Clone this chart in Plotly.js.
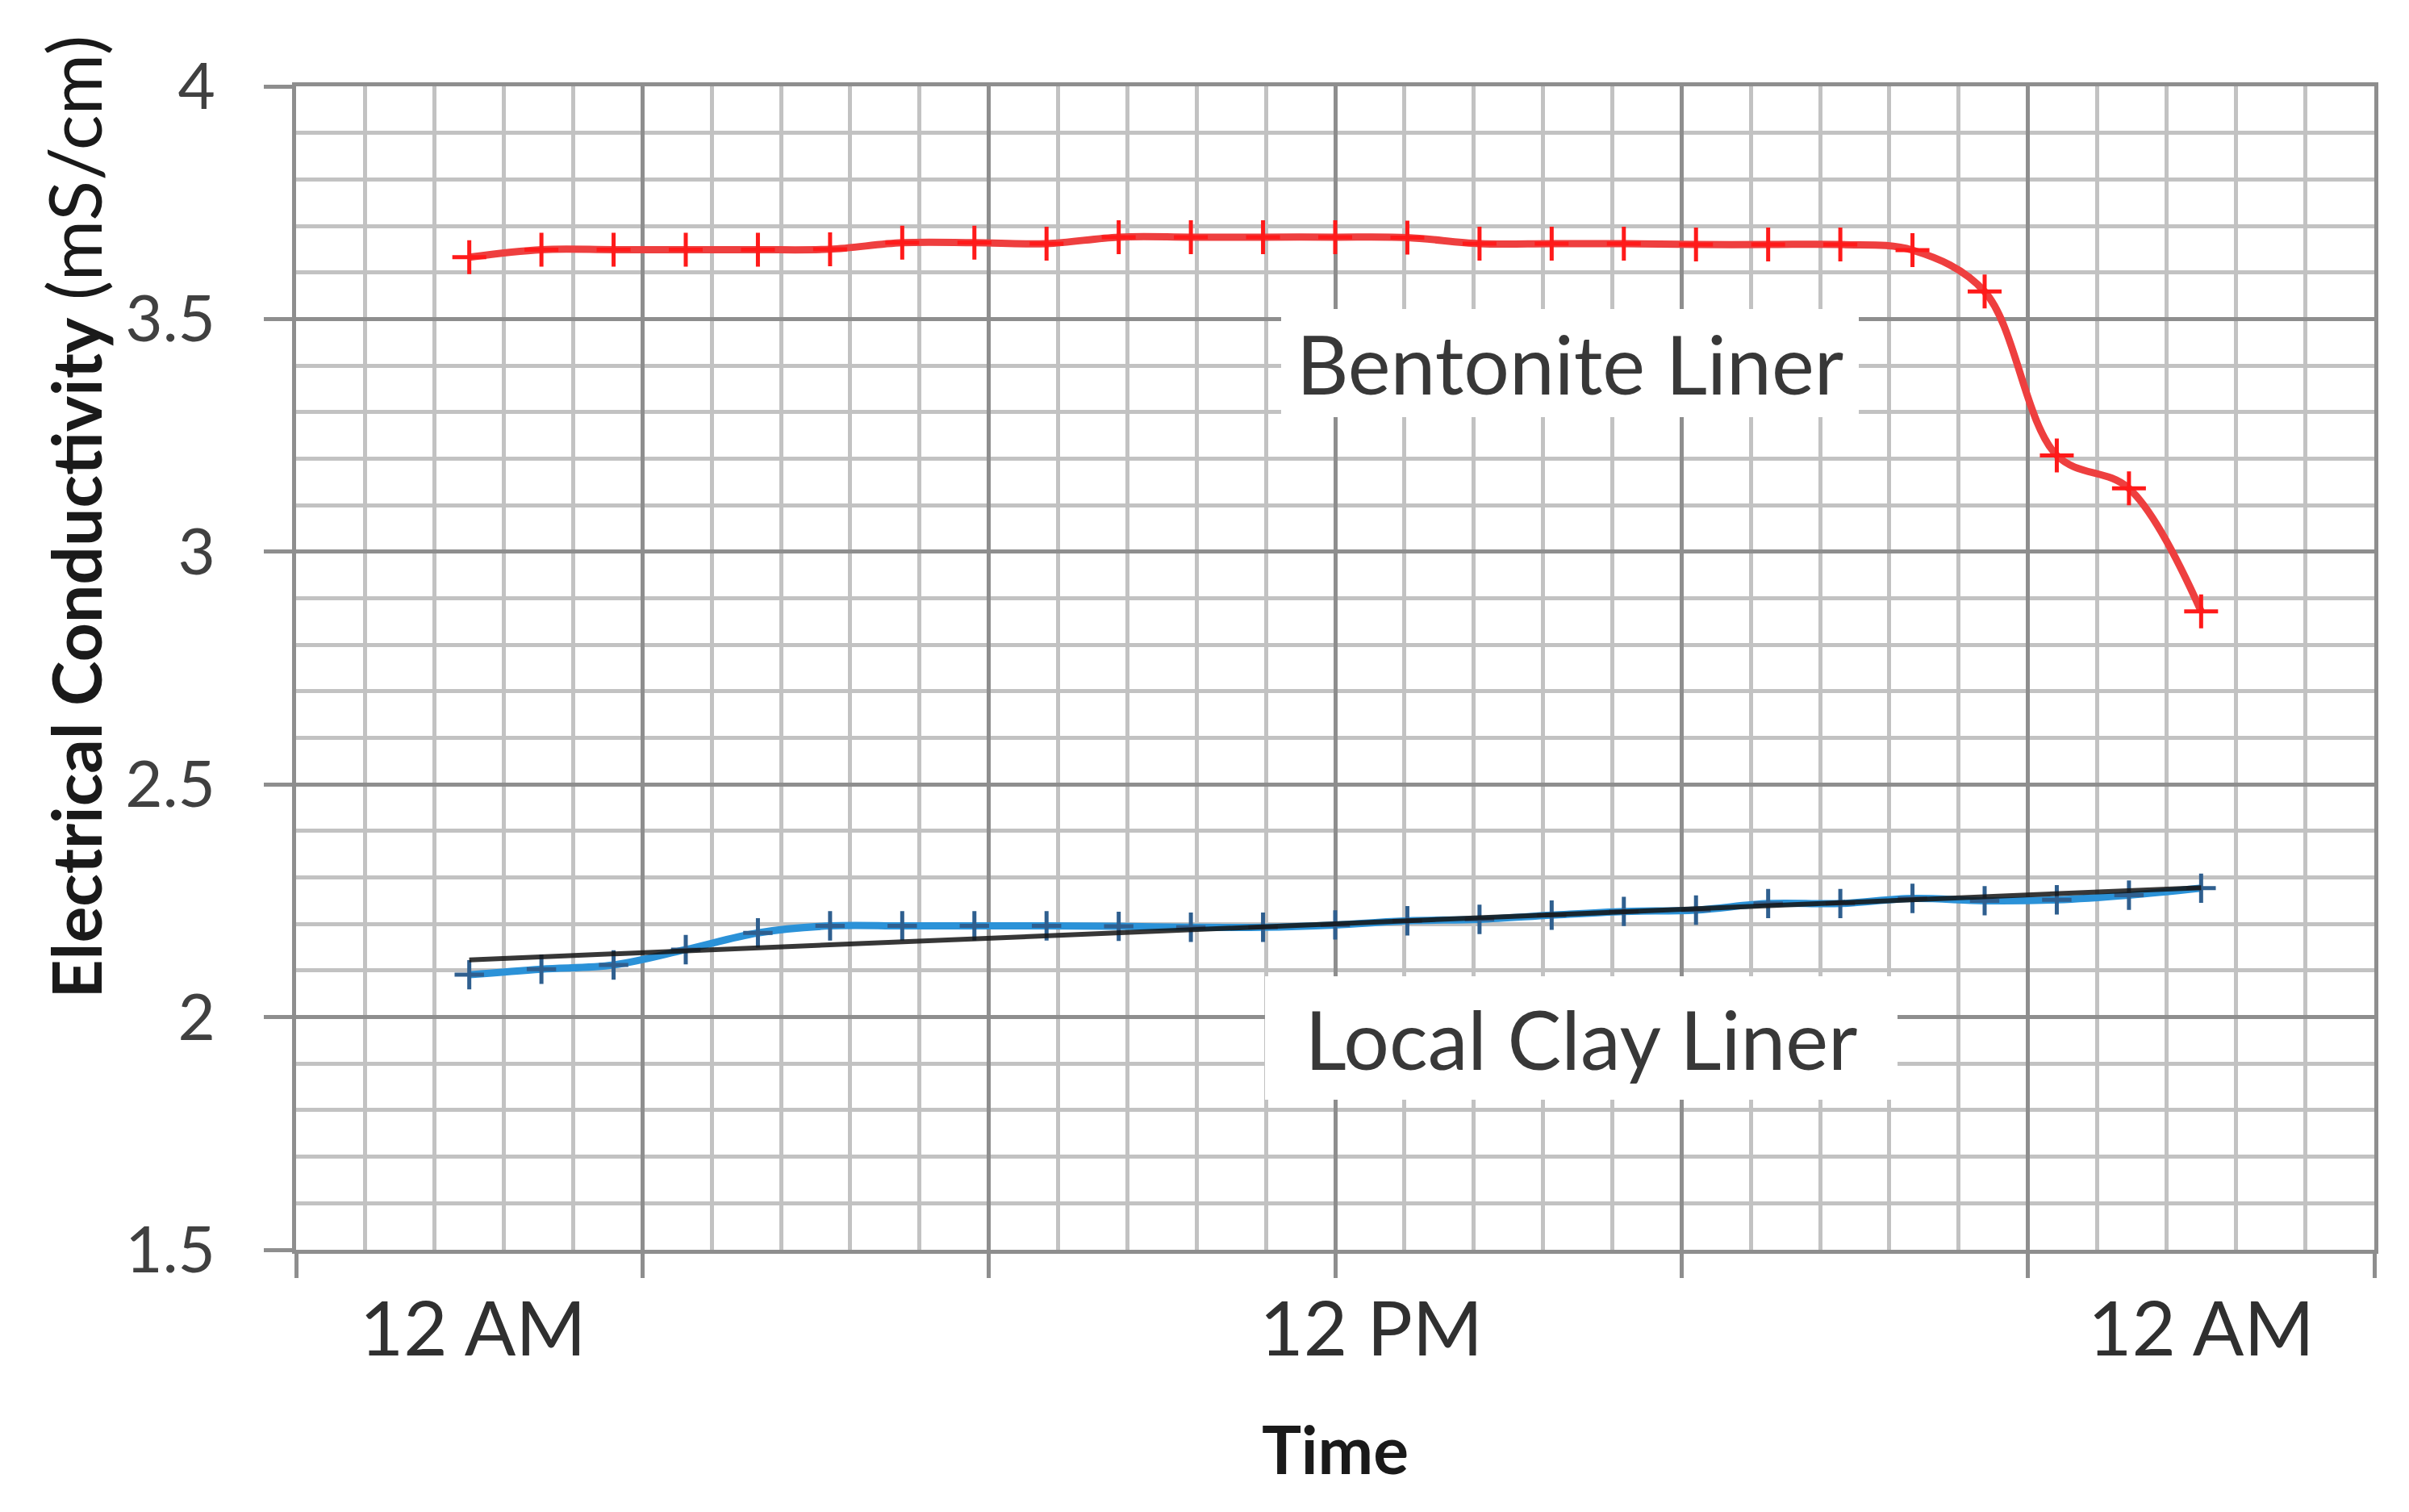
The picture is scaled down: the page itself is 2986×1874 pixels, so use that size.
<!DOCTYPE html>
<html>
<head>
<meta charset="utf-8">
<script src="https://cdn.plot.ly/plotly-3.0.1.min.js"></script>
<style>
  html, body { margin: 0; padding: 0; background: #ffffff; }
  #chart { width: 2986px; height: 1874px; }
</style>
</head>
<body>
<div id="chart"></div>
<script>
// ---- data ----
const hours = [0, 1, 2, 3, 4, 5, 6, 7, 8, 9, 10, 11, 12, 13, 14, 15, 16, 17, 18, 19, 20, 21, 22, 23, 24];
const bentonite = [3.633, 3.649, 3.649, 3.649, 3.649, 3.650, 3.664, 3.664, 3.662, 3.676, 3.676, 3.676, 3.676,
                   3.675, 3.662, 3.662, 3.662, 3.660, 3.660, 3.660, 3.648, 3.559, 3.207, 3.136, 2.872];
const localClay = [2.091, 2.103, 2.112, 2.145, 2.181, 2.196, 2.196, 2.196, 2.196, 2.195, 2.193, 2.193, 2.198,
                   2.207, 2.210, 2.219, 2.227, 2.230, 2.244, 2.244, 2.255, 2.250, 2.252, 2.262, 2.277];
const trendHours = [0, 24];
const trendValues = [2.123, 2.278];
const tickLabels = ['12 AM', '12 PM', '12 AM'];
const tickLabelHours = [0.05, 12.5, 24];
const yTickValues = [1.5, 2, 2.5, 3, 3.5, 4];
const yTickLabels = ['1.5', '2', '2.5', '3', '3.5', '4'];
const seriesLabels = ['Bentonite Liner', 'Local Clay Liner'];

// ---- grid layout helpers ----
const xRange = [-2.4, 26.4];
const xMajor = [-2.4, 2.4, 7.2, 12, 16.8, 21.6, 26.4];
const xMinor = [];
for (let i = 0; i < xMajor.length - 1; i++) {
  for (let k = 1; k < 5; k++) xMinor.push(xMajor[i] + k * 0.96);
}
const yMinor = [];
for (let i = 0; i < yTickValues.length - 1; i++) {
  for (let k = 1; k < 5; k++) yMinor.push(+(yTickValues[i] + k * 0.1).toFixed(2));
}

const FONT = 'Lato, "Open Sans", "DejaVu Sans", sans-serif';
const majorGrid = '#8e8e8e';
const minorGrid = '#c2c2c2';

const traces = [
  {
    x: hours, y: bentonite, type: 'scatter', mode: 'lines+markers', name: seriesLabels[0],
    line: { color: '#ee3f3f', width: 9, shape: 'spline', smoothing: 1 },
    marker: { symbol: 'cross-thin', size: 30, color: '#ff1a1a', line: { color: '#ff1a1a', width: 5 } },
    hoverinfo: 'x+y', xaxis: 'x', yaxis: 'y'
  },
  {
    x: hours, y: localClay, type: 'scatter', mode: 'lines+markers', name: seriesLabels[1],
    line: { color: '#2b92d8', width: 9, shape: 'spline', smoothing: 1 },
    marker: { symbol: 'cross-thin', size: 26, color: '#2f5f8f', line: { color: '#2f5f8f', width: 5 } },
    hoverinfo: 'x+y', xaxis: 'x', yaxis: 'y'
  },
  {
    // linear trendline of the local clay series, drawn on the label axis (same range as x)
    x: trendHours, y: trendValues, type: 'scatter', mode: 'lines', name: 'Linear trend',
    line: { color: '#141414', width: 6 }, opacity: 0.85,
    hoverinfo: 'skip', xaxis: 'x2', yaxis: 'y'
  }
];

const layout = {
  width: 2986, height: 1874,
  paper_bgcolor: '#ffffff', plot_bgcolor: '#ffffff',
  showlegend: false,
  margin: { l: 367, r: 43, t: 107, b: 325, pad: 0 },
  font: { family: FONT, color: '#404040' },
  xaxis: {
    range: xRange, tickmode: 'array', tickvals: xMajor, showticklabels: false,
    ticks: 'outside', ticklen: 30, tickwidth: 5, tickcolor: majorGrid,
    showgrid: true, gridcolor: majorGrid, gridwidth: 5,
    minor: { tickmode: 'array', tickvals: xMinor, showgrid: true, gridcolor: minorGrid, gridwidth: 5, ticks: '' },
    showline: true, mirror: true, linecolor: majorGrid, linewidth: 5, zeroline: false
  },
  xaxis2: {
    overlaying: 'x', anchor: 'y', side: 'bottom',
    range: xRange, tickmode: 'array', tickvals: tickLabelHours, ticktext: tickLabels,
    tickfont: { family: FONT, size: 94, color: '#303030' },
    ticks: '', showgrid: false, showline: false, zeroline: false, ticklabelstandoff: 36,
    title: { text: '<b>Time</b>', font: { family: FONT, size: 82, color: '#1a1a1a' }, standoff: 70 }
  },
  yaxis: {
    range: [1.5, 4], tickmode: 'array', tickvals: yTickValues, ticktext: yTickLabels,
    tickfont: { family: FONT, size: 80, color: '#404040' },
    ticks: 'outside', ticklen: 35, tickwidth: 5, tickcolor: majorGrid, ticklabelstandoff: 44,
    showgrid: true, gridcolor: majorGrid, gridwidth: 5,
    minor: { tickmode: 'array', tickvals: yMinor, showgrid: true, gridcolor: minorGrid, gridwidth: 5, ticks: '' },
    showline: true, mirror: true, linecolor: majorGrid, linewidth: 5, zeroline: false
  },
  annotations: [
    {
      xref: 'x', yref: 'y', x: 15.25, y: 3.405, text: seriesLabels[0], showarrow: false,
      font: { family: FONT, size: 100, color: '#383838' },
      bgcolor: '#ffffff', width: 700, height: 118, borderpad: 8, borderwidth: 0,
      xanchor: 'center', yanchor: 'middle'
    },
    {
      xref: 'x', yref: 'y', x: 15.41, y: 1.955, text: seriesLabels[1], showarrow: false,
      font: { family: FONT, size: 100, color: '#383838' },
      bgcolor: '#ffffff', width: 768, height: 137, borderpad: 8, borderwidth: 0,
      xanchor: 'center', yanchor: 'middle'
    },
    {
      xref: 'paper', yref: 'paper', x: -0.1075, y: 0.63, textangle: -90, showarrow: false,
      text: '<b>Electrical Conductivity</b> <span style="font-size:92px">(mS/cm)</span>',
      font: { family: FONT, size: 84, color: '#1a1a1a' },
      xanchor: 'center', yanchor: 'middle'
    }
  ]
};

Plotly.newPlot('chart', traces, layout, { staticPlot: true, displayModeBar: false });
</script>
</body>
</html>
